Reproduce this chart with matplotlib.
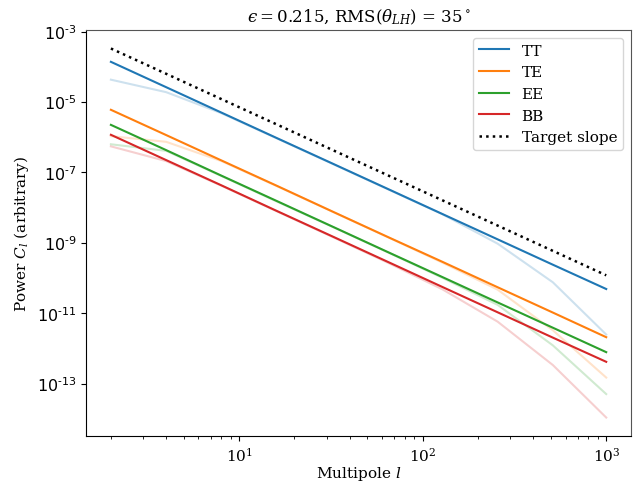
import numpy as np
import matplotlib
matplotlib.use('Agg')
import matplotlib.pyplot as plt
from matplotlib.ticker import NullLocator, FuncFormatter

plt.rcParams['font.family'] = 'DejaVu Serif'
plt.rcParams['mathtext.fontset'] = 'dejavuserif'
plt.rcParams['axes.unicode_minus'] = False

# multipoles
ell = [2, 4, 8, 16, 32, 64, 128, 256, 512, 1000]

# fitted power laws (solid)
tt_fit = [1.38e-4, 2.63e-5, 5.0e-6, 9.5e-7, 1.82e-7, 3.47e-8, 6.6e-9, 1.26e-9, 2.4e-10, 4.9e-11]
te_fit = [6.0e-6, 1.15e-6, 2.19e-7, 4.2e-8, 7.9e-9, 1.5e-9, 2.9e-10, 5.5e-11, 1.05e-11, 2.1e-12]
ee_fit = [2.24e-6, 4.3e-7, 8.1e-8, 1.55e-8, 2.95e-9, 5.6e-10, 1.07e-10, 2.04e-11, 3.9e-12, 7.9e-13]
bb_fit = [1.17e-6, 2.24e-7, 4.3e-8, 8.1e-9, 1.55e-9, 2.95e-10, 5.6e-11, 1.07e-11, 2.04e-12, 4.2e-13]

# measured spectra (faint)
tt_meas = [4.3e-5, 1.9e-5, 4.8e-6, 9.3e-7, 1.78e-7, 3.4e-8, 6.5e-9, 9.5e-10, 7.6e-11, 2.5e-12]
te_meas = [1.07e-6, 7.4e-7, 2.1e-7, 4.1e-8, 7.8e-9, 1.48e-9, 2.75e-10, 4.7e-11, 3.3e-12, 1.5e-13]
ee_meas = [6.3e-7, 4.1e-7, 7.9e-8, 1.5e-8, 2.9e-9, 5.5e-10, 1.02e-10, 1.74e-11, 1.23e-12, 5.1e-14]
bb_meas = [5.5e-7, 2.1e-7, 4.2e-8, 7.9e-9, 1.5e-9, 2.8e-10, 4.8e-11, 5.8e-12, 3.4e-13, 1.1e-14]

# target slope
target_ell = [2, 1000]
target = [3.3e-4, 1.2e-10]

yticks = [1e-3, 1e-5, 1e-7, 1e-9, 1e-11, 1e-13]

fig, ax = plt.subplots(figsize=(6.38, 4.85), dpi=100)
fig.subplots_adjust(left=0.135, right=0.989, top=0.936, bottom=0.099)

cols = ['#1f77b4', '#ff7f0e', '#2ca02c', '#d62728']
names = ['TT', 'TE', 'EE', 'BB']
for fit, meas, c, n in zip([tt_fit, te_fit, ee_fit, bb_fit],
                           [tt_meas, te_meas, ee_meas, bb_meas], cols, names):
    ax.plot(ell, meas, color=c, alpha=0.22, lw=1.5)
    ax.plot(ell, fit, color=c, lw=1.5, label=n)
ax.plot(target_ell, target, color='black', linestyle=':', lw=1.8, label='Target slope')

ax.set_xscale('log')
ax.set_yscale('log')
ax.set_yticks(yticks)
ax.yaxis.set_minor_locator(NullLocator())
ax.yaxis.set_major_formatter(FuncFormatter(
    lambda v, p: r'$\mathsf{10}^{\text{-}\mathsf{%d}}$' % round(-np.log10(v))))
ax.tick_params(axis='x', labelsize=11)
ax.tick_params(axis='y', labelsize=11.5)
ax.set_xlabel('Multipole $l$', fontsize=11, labelpad=0)
ax.set_ylabel('Power $C_l$ (arbitrary)', fontsize=11)
ax.set_title('$\u03f5 = 0.215$, RMS($\\theta_{LH}$) = 35$^\\circ$', fontsize=12)
for s in ['top', 'right']:
    ax.spines[s].set_color('#555555')
ax.legend(loc='upper right', fontsize=11)

plt.savefig('out.png')
